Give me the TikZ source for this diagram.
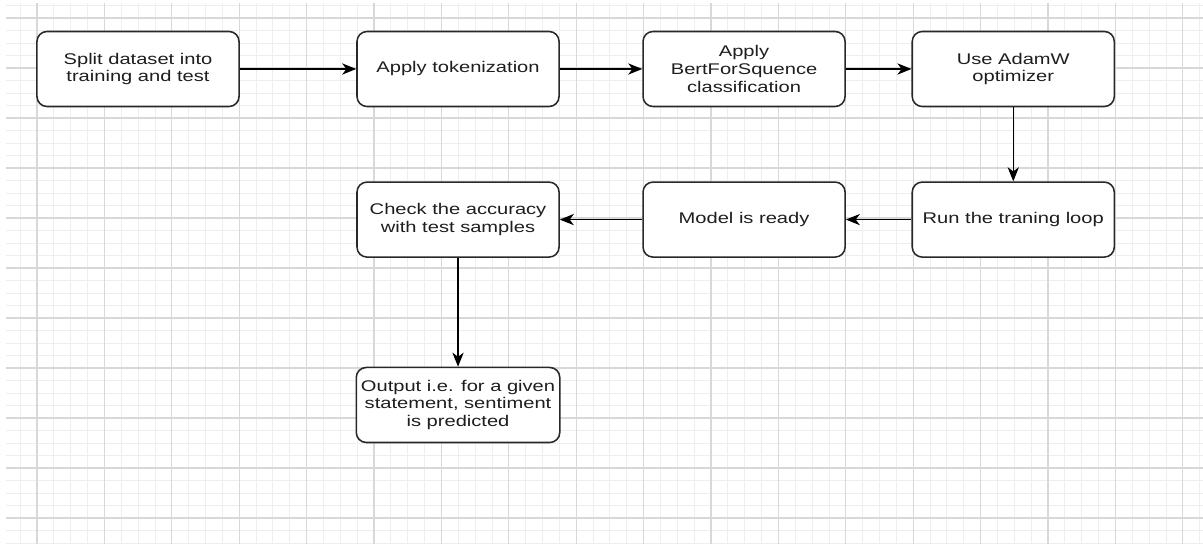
\documentclass[tikz,border=0pt]{standalone}
\usepackage{fontspec}
\setmainfont{Liberation Sans}[FakeStretch=1.3]
\usepackage{tikz}
\usetikzlibrary{positioning,arrows.meta}
\definecolor{gridminor}{RGB}{238,238,238}
\definecolor{gridmajor}{RGB}{216,216,216}
\definecolor{boxline}{RGB}{40,40,40}
\definecolor{textdark}{RGB}{30,30,30}

\begin{document}
\begin{tikzpicture}[
    x=0.025cm, y=-0.025cm,
    node distance=1.85cm,
    stepbox/.style={rectangle, rounded corners=0.25cm, draw=boxline, fill=white, line width=1.1pt, minimum width=5.05cm, minimum height=1.875cm, align=center, font=\fontsize{11}{12.5}\selectfont, text=textdark},
    arrow/.style={-{Stealth[length=10pt,width=8pt,inset=3pt]}, line width=0.9pt, color=black},
    minorline/.style={draw=gridminor, line width=0.6pt},
    majorline/.style={draw=gridmajor, line width=0.8pt}
]

% Page and grid
\useasboundingbox (0,0) rectangle (1203,544);
\fill[white] (0,0) rectangle (1203,544);
\begin{scope}
\clip (6,3) rectangle (1203,544);
\foreach \k in {-1,...,69} \draw[minorline] ({37+16.85*\k},3) -- ({37+16.85*\k},544);
\foreach \k in {-1,...,42} \draw[minorline] (6,{18+12.5*\k}) -- (1203,{18+12.5*\k});
\foreach \k in {0,...,17} \draw[majorline] ({37+67.4*\k},3) -- ({37+67.4*\k},544);
\foreach \k in {0,...,10} \draw[majorline] (6,{18+50*\k}) -- (1203,{18+50*\k});
\end{scope}

% First row
\node[stepbox] (split) at (138,69) {Split dataset into\\training and test};
\node[stepbox, right=2.91cm of split] (token) {Apply tokenization};
\node[stepbox, right=2.06cm of token] (bert) {Apply\\BertForSquence\\classification};
\node[stepbox, right=1.64cm of bert] (adam) {Use AdamW\\optimizer};

% Second row
\node[stepbox, below=of adam] (train) {Run the traning loop};
\node[stepbox, below=of bert] (ready) {Model is ready};
\node[stepbox, below=of token] (check) {Check the accuracy\\with test samples};

% Output
\node[stepbox, below=2.72cm of check] (output) {Output i.e. for a given\\statement, sentiment\\is predicted};

% Arrows
\draw[arrow] (split) -- (token);
\draw[arrow] (token) -- (bert);
\draw[arrow] (bert) -- (adam);
\draw[arrow] (adam) -- (train);
\draw[arrow] (train) -- (ready);
\draw[arrow] (ready) -- (check);
\draw[arrow] (check) -- (output);

\end{tikzpicture}
\end{document}
